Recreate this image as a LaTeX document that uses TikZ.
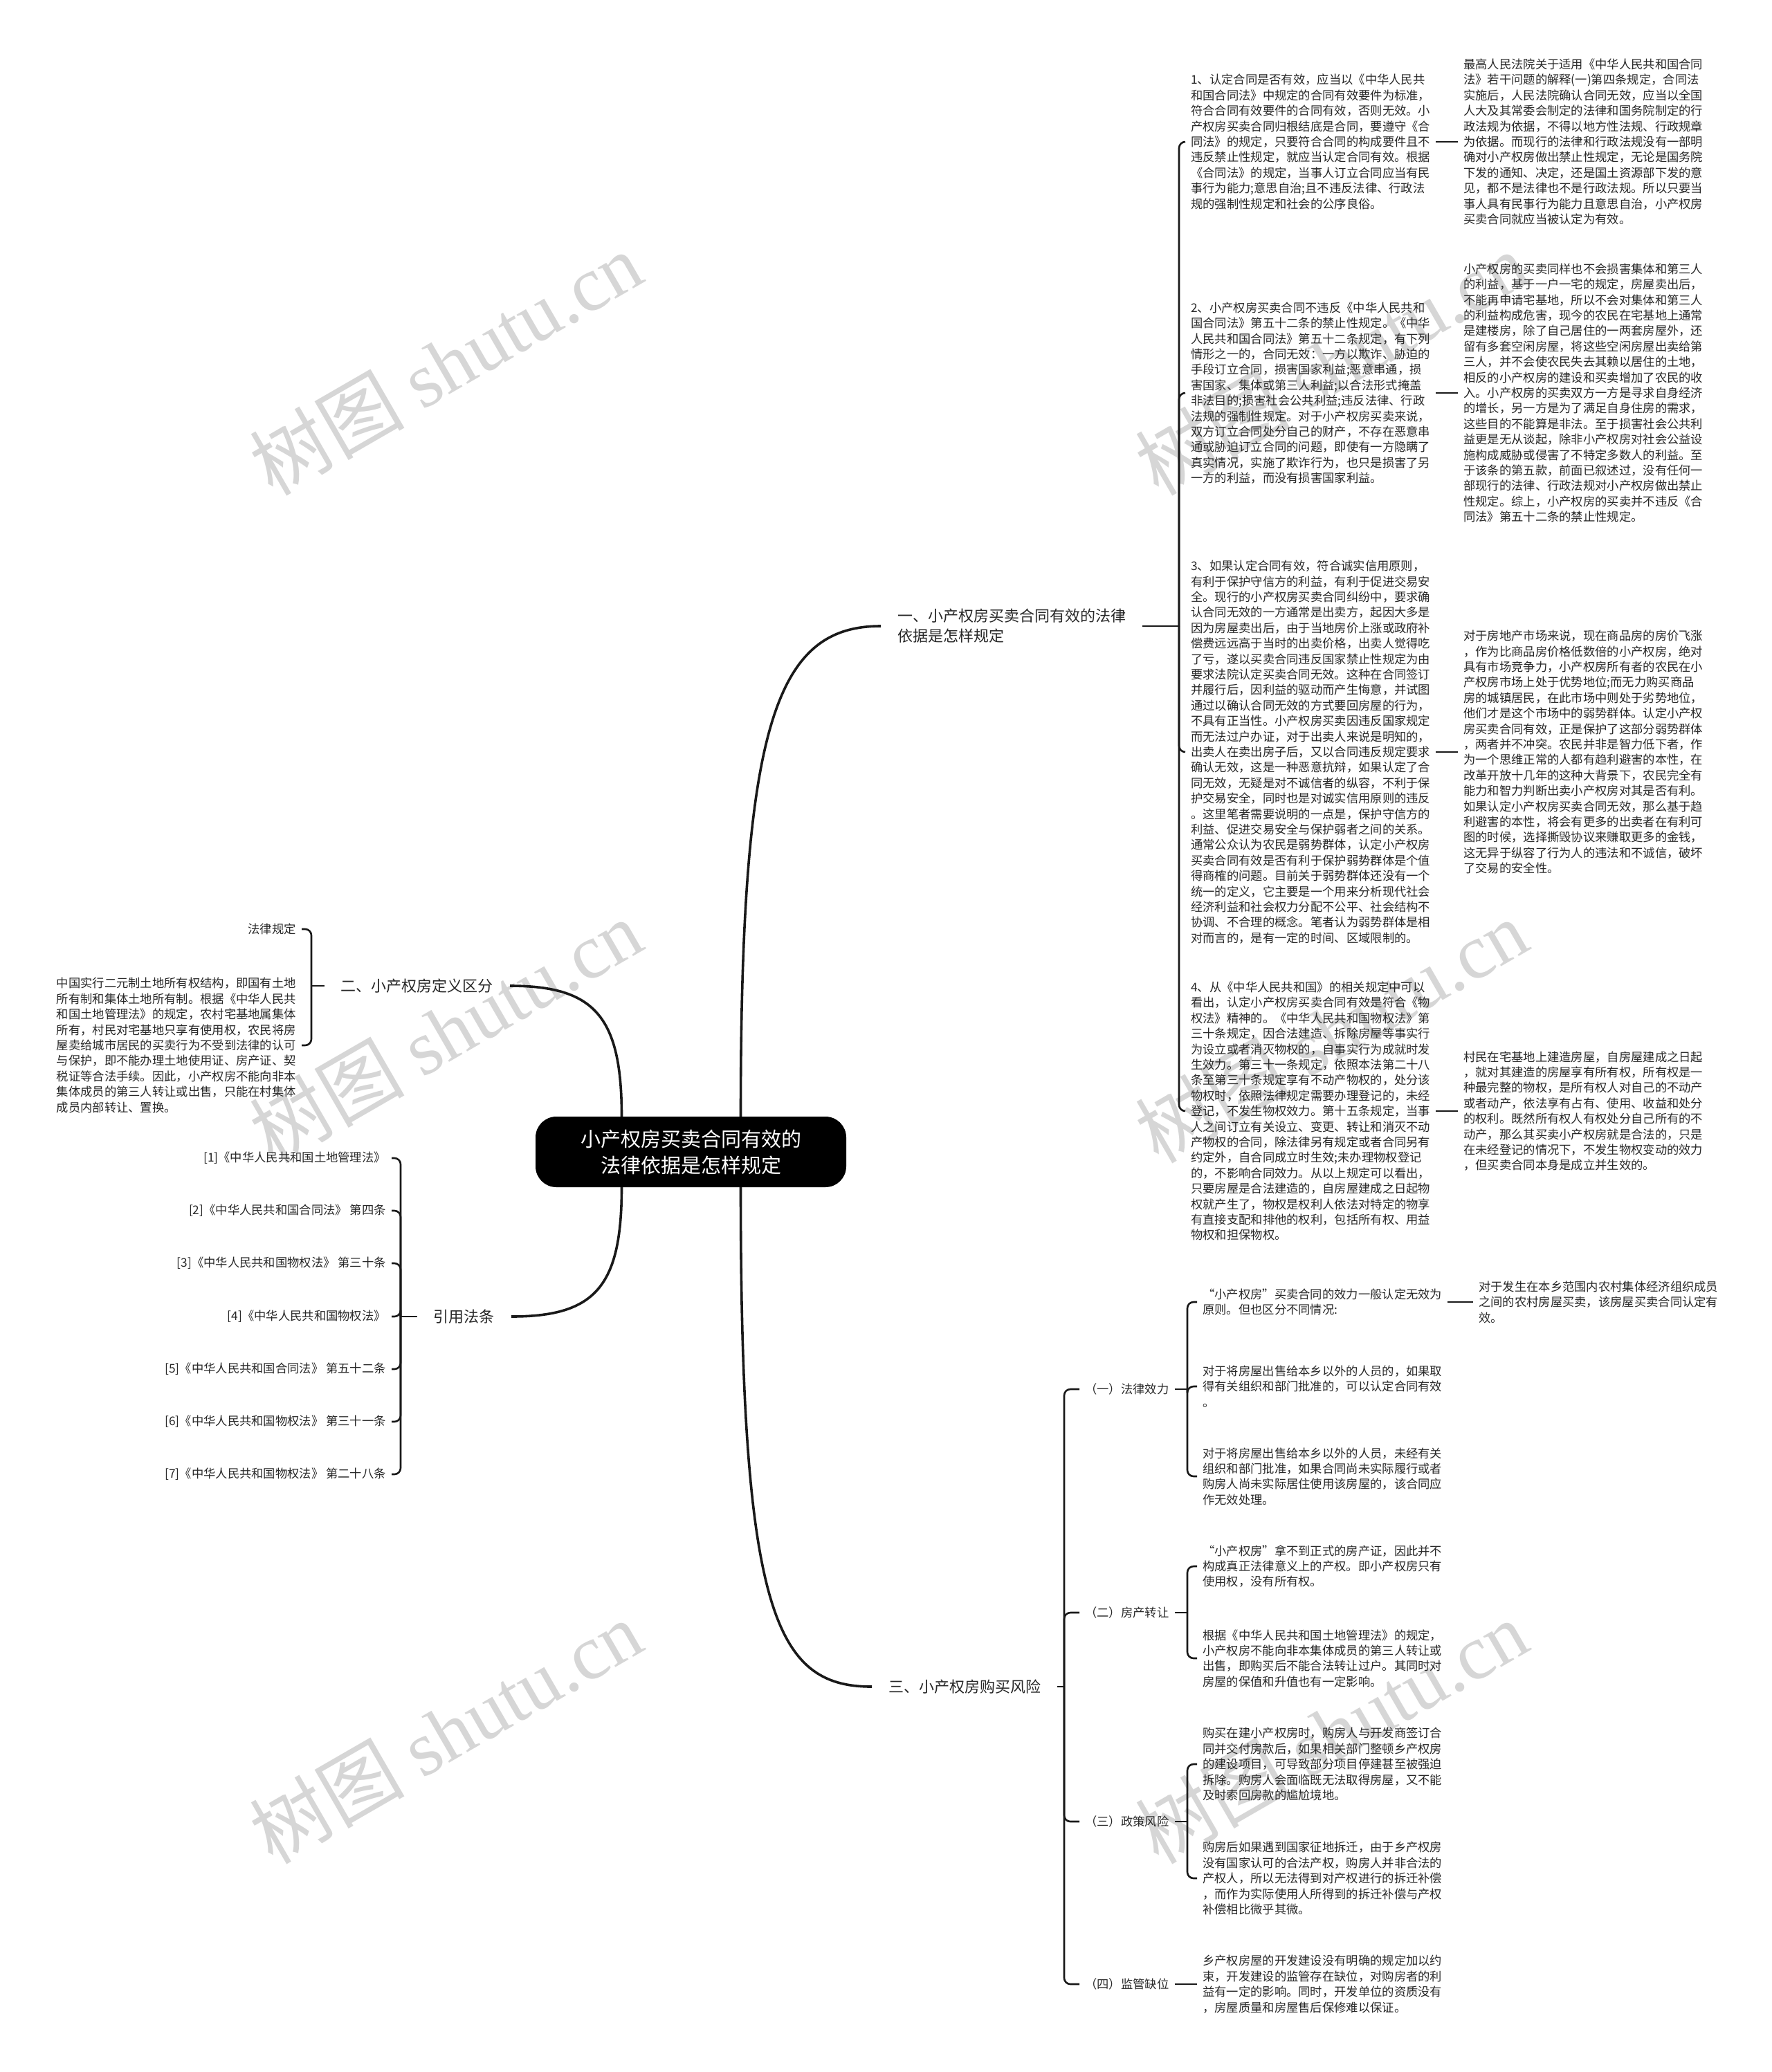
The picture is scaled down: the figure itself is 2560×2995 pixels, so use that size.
\documentclass[tikz,border=0pt]{standalone}
\usepackage{fontspec}
\setmainfont{Noto Sans CJK SC}
\newfontfamily\wmserif{Liberation Serif}
\definecolor{txtc}{RGB}{40,40,40}
\definecolor{linec}{RGB}{25,25,25}
\definecolor{wm}{RGB}{214,214,214}
\begin{document}
\begin{tikzpicture}[x=1pt,y=-1pt,
  txt/.style={font=\fontsize{17.3pt}{22.4pt}\selectfont, text=txtc, align=left, inner xsep=8pt, inner ysep=0pt},
  txtr/.style={txt, align=right},
  brn/.style={font=\fontsize{22pt}{29pt}\selectfont, text=txtc, align=left, inner xsep=24pt, inner ysep=2pt},
  qlab/.style={font=\fontsize{17.3pt}{22.4pt}\selectfont, text=txtc, inner xsep=8pt, inner ysep=0pt},
  link/.style={draw=linec, line width=2.6pt, rounded corners=9pt},
  mainl/.style={draw=linec, line width=3.6pt},
  centre/.style={fill=black, text=white, rounded corners=30pt, minimum width=449pt, minimum height=102pt, align=center, font=\fontsize{29pt}{38pt}\selectfont},
  wmk/.style={text=wm, rotate=30, font=\fontsize{112pt}{112pt}\selectfont}
]
\useasboundingbox (0,0) rectangle (2560,2995);
\fill[white] (0,0) rectangle (2560,2995);

% watermarks
\node[wmk] (w1) at (644,525) {树图 {\wmserif shutu.cn}};
\node[wmk] (w2) at (644,1490) {树图 {\wmserif shutu.cn}};
\node[wmk] (w3) at (644,2503) {树图 {\wmserif shutu.cn}};
\node[wmk] (w4) at (1924,525) {树图 {\wmserif shutu.cn}};
\node[wmk] (w5) at (1924,1490) {树图 {\wmserif shutu.cn}};
\node[wmk] (w6) at (1924,2503) {树图 {\wmserif shutu.cn}};

% centre
\node[centre] (c) at (998.5,1665) {小产权房买卖合同有效的\\法律依据是怎样规定};

% branches
\node[brn, anchor=west] (b1) at (1273,905) {一、小产权房买卖合同有效的法律\\依据是怎样规定};
\node[brn, anchor=east] (b2) at (737,1425) {二、小产权房定义区分};
\node[brn, anchor=east] (bc) at (739,1903) {引用法条};
\node[brn, anchor=west] (b3) at (1260,2438) {三、小产权房购买风险};

\draw[mainl] ([xshift=72pt]c.north) .. controls (1070.5,1050) and (1120,905) .. (b1.west);
\draw[mainl] ([xshift=72pt]c.south) .. controls (1070.5,2330) and (1120,2438) .. (b3.west);
\draw[mainl] ([xshift=-100pt]c.north) .. controls (898.5,1470) and (860,1425) .. (b2.east);
\draw[mainl] ([xshift=-100pt]c.south) .. controls (898.5,1860) and (860,1903) .. (bc.east);

% ---------- branch 1 ----------
\node[txt, anchor=west] (n1) at (1713,205) {1、认定合同是否有效，应当以《中华人民共\\和国合同法》中规定的合同有效要件为标准，\\符合合同有效要件的合同有效，否则无效。小\\产权房买卖合同归根结底是合同，要遵守《合\\同法》的规定，只要符合合同的构成要件且不\\违反禁止性规定，就应当认定合同有效。根据\\《合同法》的规定，当事人订立合同应当有民\\事行为能力;意思自治;且不违反法律、行政法\\规的强制性规定和社会的公序良俗。};
\node[txt, anchor=west] (r1) at (2107,205) {最高人民法院关于适用《中华人民共和国合同\\法》若干问题的解释(一)第四条规定，合同法\\实施后，人民法院确认合同无效，应当以全国\\人大及其常委会制定的法律和国务院制定的行\\政法规为依据，不得以地方性法规、行政规章\\为依据。而现行的法律和行政法规没有一部明\\确对小产权房做出禁止性规定，无论是国务院\\下发的通知、决定，还是国土资源部下发的意\\见，都不是法律也不是行政法规。所以只要当\\事人具有民事行为能力且意思自治，小产权房\\买卖合同就应当被认定为有效。};

\node[txt, anchor=west] (n2) at (1713,568) {2、小产权房买卖合同不违反《中华人民共和\\国合同法》第五十二条的禁止性规定。《中华\\人民共和国合同法》第五十二条规定，有下列\\情形之一的，合同无效：一方以欺诈、胁迫的\\手段订立合同，损害国家利益;恶意串通，损\\害国家、集体或第三人利益;以合法形式掩盖\\非法目的;损害社会公共利益;违反法律、行政\\法规的强制性规定。对于小产权房买卖来说，\\双方订立合同处分自己的财产，不存在恶意串\\通或胁迫订立合同的问题，即使有一方隐瞒了\\真实情况，实施了欺诈行为，也只是损害了另\\一方的利益，而没有损害国家利益。};
\node[txt, anchor=west] (r2) at (2107,568) {小产权房的买卖同样也不会损害集体和第三人\\的利益，基于一户一宅的规定，房屋卖出后，\\不能再申请宅基地，所以不会对集体和第三人\\的利益构成危害，现今的农民在宅基地上通常\\是建楼房，除了自己居住的一两套房屋外，还\\留有多套空闲房屋，将这些空闲房屋出卖给第\\三人，并不会使农民失去其赖以居住的土地，\\相反的小产权房的建设和买卖增加了农民的收\\入。小产权房的买卖双方一方是寻求自身经济\\的增长，另一方是为了满足自身住房的需求，\\这些目的不能算是非法。至于损害社会公共利\\益更是无从谈起，除非小产权房对社会公益设\\施构成威胁或侵害了不特定多数人的利益。至\\于该条的第五款，前面已叙述过，没有任何一\\部现行的法律、行政法规对小产权房做出禁止\\性规定。综上，小产权房的买卖并不违反《合\\同法》第五十二条的禁止性规定。};

\node[txt, anchor=west] (n3) at (1713,1087) {3、如果认定合同有效，符合诚实信用原则，\\有利于保护守信方的利益，有利于促进交易安\\全。现行的小产权房买卖合同纠纷中，要求确\\认合同无效的一方通常是出卖方，起因大多是\\因为房屋卖出后，由于当地房价上涨或政府补\\偿费远远高于当时的出卖价格，出卖人觉得吃\\了亏，遂以买卖合同违反国家禁止性规定为由\\要求法院认定买卖合同无效。这种在合同签订\\并履行后，因利益的驱动而产生悔意，并试图\\通过以确认合同无效的方式要回房屋的行为，\\不具有正当性。小产权房买卖因违反国家规定\\而无法过户办证，对于出卖人来说是明知的，\\出卖人在卖出房子后，又以合同违反规定要求\\确认无效，这是一种恶意抗辩，如果认定了合\\同无效，无疑是对不诚信者的纵容，不利于保\\护交易安全，同时也是对诚实信用原则的违反\\。这里笔者需要说明的一点是，保护守信方的\\利益、促进交易安全与保护弱者之间的关系。\\通常公众认为农民是弱势群体，认定小产权房\\买卖合同有效是否有利于保护弱势群体是个值\\得商榷的问题。目前关于弱势群体还没有一个\\统一的定义，它主要是一个用来分析现代社会\\经济利益和社会权力分配不公平、社会结构不\\协调、不合理的概念。笔者认为弱势群体是相\\对而言的，是有一定的时间、区域限制的。};
\node[txt, anchor=west] (r3) at (2107,1087) {对于房地产市场来说，现在商品房的房价飞涨\\，作为比商品房价格低数倍的小产权房，绝对\\具有市场竞争力，小产权房所有者的农民在小\\产权房市场上处于优势地位;而无力购买商品\\房的城镇居民，在此市场中则处于劣势地位，\\他们才是这个市场中的弱势群体。认定小产权\\房买卖合同有效，正是保护了这部分弱势群体\\，两者并不冲突。农民并非是智力低下者，作\\为一个思维正常的人都有趋利避害的本性，在\\改革开放十几年的这种大背景下，农民完全有\\能力和智力判断出卖小产权房对其是否有利。\\如果认定小产权房买卖合同无效，那么基于趋\\利避害的本性，将会有更多的出卖者在有利可\\图的时候，选择撕毁协议来赚取更多的金钱，\\这无异于纵容了行为人的违法和不诚信，破坏\\了交易的安全性。};

\node[txt, anchor=west] (n4) at (1713,1606) {4、从《中华人民共和国》的相关规定中可以\\看出，认定小产权房买卖合同有效是符合《物\\权法》精神的。《中华人民共和国物权法》第\\三十条规定，因合法建造、拆除房屋等事实行\\为设立或者消灭物权的，自事实行为成就时发\\生效力。第三十一条规定，依照本法第二十八\\条至第三十条规定享有不动产物权的，处分该\\物权时，依照法律规定需要办理登记的，未经\\登记，不发生物权效力。第十五条规定，当事\\人之间订立有关设立、变更、转让和消灭不动\\产物权的合同，除法律另有规定或者合同另有\\约定外，自合同成立时生效;未办理物权登记\\的，不影响合同效力。从以上规定可以看出，\\只要房屋是合法建造的，自房屋建成之日起物\\权就产生了，物权是权利人依法对特定的物享\\有直接支配和排他的权利，包括所有权、用益\\物权和担保物权。};
\node[txt, anchor=west] (r4) at (2107,1606) {村民在宅基地上建造房屋，自房屋建成之日起\\，就对其建造的房屋享有所有权，所有权是一\\种最完整的物权，是所有权人对自己的不动产\\或者动产，依法享有占有、使用、收益和处分\\的权利。既然所有权人有权处分自己所有的不\\动产，那么其买卖小产权房就是合法的，只是\\在未经登记的情况下，不发生物权变动的效力\\，但买卖合同本身是成立并生效的。};

\coordinate (j1) at (1704,905);
\draw[link] (b1.east) -- (j1);
\foreach \n in {n1,n2,n3,n4} {\draw[link] (j1) |- (\n.west);}
\draw[link] (n1.east) -- (r1.west);
\draw[link] (n2.east) -- (r2.west);
\draw[link] (n3.east) -- (r3.west);
\draw[link] (n4.east) -- (r4.west);

% ---------- branch 2 ----------
\node[txt, anchor=east] (l1) at (436,1343) {法律规定};
\node[txt, anchor=east] (l2) at (436,1511) {中国实行二元制土地所有权结构，即国有土地\\所有制和集体土地所有制。根据《中华人民共\\和国土地管理法》的规定，农村宅基地属集体\\所有，村民对宅基地只享有使用权，农民将房\\屋卖给城市居民的买卖行为不受到法律的认可\\与保护，即不能办理土地使用证、房产证、契\\税证等合法手续。因此，小产权房不能向非本\\集体成员的第三人转让或出售，只能在村集体\\成员内部转让、置换。};
\coordinate (j2) at (450,1425);
\draw[link] (b2.west) -- (j2);
\draw[link] (j2) |- (l1.east);
\draw[link] (j2) |- (l2.east);

% ---------- citations ----------
\node[txtr, anchor=east] (c1) at (566,1674) {[1]《中华人民共和国土地管理法》};
\node[txtr, anchor=east] (c2) at (566,1750) {[2]《中华人民共和国合同法》 第四条};
\node[txtr, anchor=east] (c3) at (566,1826) {[3]《中华人民共和国物权法》 第三十条};
\node[txtr, anchor=east] (c4) at (566,1903) {[4]《中华人民共和国物权法》};
\node[txtr, anchor=east] (c5) at (566,1979) {[5]《中华人民共和国合同法》 第五十二条};
\node[txtr, anchor=east] (c6) at (566,2055) {[6]《中华人民共和国物权法》 第三十一条};
\node[txtr, anchor=east] (c7) at (566,2131) {[7]《中华人民共和国物权法》 第二十八条};
\coordinate (jc) at (579,1903);
\draw[link] (bc.west) -- (jc);
\foreach \n in {c1,c2,c3,c4,c5,c6,c7} {\draw[link] (jc) |- (\n.east);}

% ---------- branch 3 ----------
\node[qlab, anchor=west] (q1) at (1560,2008) {（一）法律效力};
\node[qlab, anchor=west] (q2) at (1560,2331) {（二）房产转让};
\node[qlab, anchor=west] (q3) at (1560,2633) {（三）政策风险};
\node[qlab, anchor=west] (q4) at (1560,2868) {（四）监管缺位};
\coordinate (j3) at (1538,2438);
\draw[link] (b3.east) -- (j3);
\foreach \n in {q1,q2,q3,q4} {\draw[link] (j3) |- (\n.west);}

\node[txt, anchor=west] (sa) at (1730,1882) {“小产权房”买卖合同的效力一般认定无效为\\原则。但也区分不同情况:};
\node[txt, anchor=west] (sa2) at (2129,1882) {对于发生在本乡范围内农村集体经济组织成员\\之间的农村房屋买卖，该房屋买卖合同认定有\\效。};
\node[txt, anchor=west] (sb) at (1730,2004) {对于将房屋出售给本乡以外的人员的，如果取\\得有关组织和部门批准的，可以认定合同有效\\。};
\node[txt, anchor=west] (sc) at (1730,2134) {对于将房屋出售给本乡以外的人员，未经有关\\组织和部门批准，如果合同尚未实际履行或者\\购房人尚未实际居住使用该房屋的，该合同应\\作无效处理。};
\node[txt, anchor=west] (sd) at (1730,2264) {“小产权房”拿不到正式的房产证，因此并不\\构成真正法律意义上的产权。即小产权房只有\\使用权，没有所有权。};
\node[txt, anchor=west] (se) at (1730,2397) {根据《中华人民共和国土地管理法》的规定，\\小产权房不能向非本集体成员的第三人转让或\\出售，即购买后不能合法转让过户。其同时对\\房屋的保值和升值也有一定影响。};
\node[txt, anchor=west] (sf) at (1730,2550) {购买在建小产权房时，购房人与开发商签订合\\同并交付房款后，如果相关部门整顿乡产权房\\的建设项目，可导致部分项目停建甚至被强迫\\拆除。购房人会面临既无法取得房屋，又不能\\及时索回房款的尴尬境地。};
\node[txt, anchor=west] (sg) at (1730,2715) {购房后如果遇到国家征地拆迁，由于乡产权房\\没有国家认可的合法产权，购房人并非合法的\\产权人，所以无法得到对产权进行的拆迁补偿\\，而作为实际使用人所得到的拆迁补偿与产权\\补偿相比微乎其微。};
\node[txt, anchor=west] (sh) at (1730,2868) {乡产权房屋的开发建设没有明确的规定加以约\\束，开发建设的监管存在缺位，对购房者的利\\益有一定的影响。同时，开发单位的资质没有\\，房屋质量和房屋售后保修难以保证。};

\coordinate (k1) at (1716,2008);
\draw[link] (q1.east) -- (k1);
\foreach \n in {sa,sb,sc} {\draw[link] (k1) |- (\n.west);}
\draw[link] (sa.east) -- (sa2.west);
\coordinate (k2) at (1716,2331);
\draw[link] (q2.east) -- (k2);
\foreach \n in {sd,se} {\draw[link] (k2) |- (\n.west);}
\coordinate (k3) at (1716,2633);
\draw[link] (q3.east) -- (k3);
\foreach \n in {sf,sg} {\draw[link] (k3) |- (\n.west);}
\draw[link] (q4.east) -- (sh.west);
\end{tikzpicture}
\end{document}
